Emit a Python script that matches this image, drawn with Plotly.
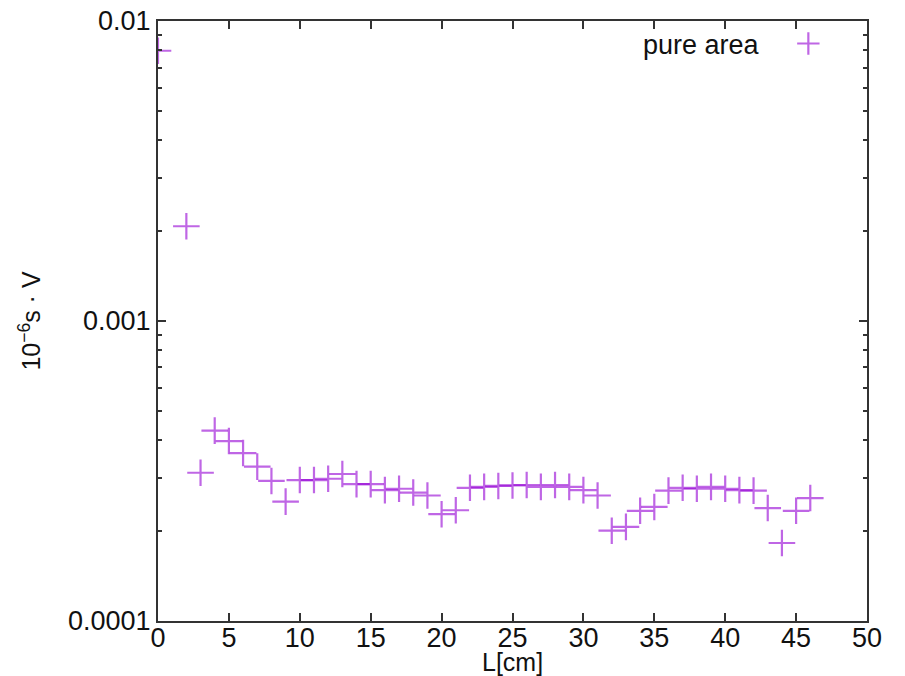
import plotly.graph_objects as go

# L [cm] positions and measured pure area (10^-6 s * V)
length_cm = [0, 2, 3, 4, 5, 6, 7, 8, 9, 10, 11, 12, 13, 14, 15, 16, 17, 18, 19, 20,
             21, 22, 23, 24, 25, 26, 27, 28, 29, 30, 31, 32, 33, 34, 35, 36, 37, 38,
             39, 40, 41, 42, 43, 44, 45, 46]
pure_area = [0.00796, 0.00207, 0.000312, 0.000431, 0.000398, 0.000363, 0.000327,
             0.000293, 0.000250, 0.000295, 0.000295, 0.000298, 0.000309, 0.000286,
             0.000286, 0.000273, 0.000276, 0.000268, 0.000262, 0.000227, 0.000234,
             0.000278, 0.000280, 0.000282, 0.000283, 0.000284, 0.000280, 0.000284,
             0.000280, 0.000273, 0.000262, 0.000200, 0.000206, 0.000233, 0.000240,
             0.000272, 0.000278, 0.000276, 0.000280, 0.000276, 0.000273, 0.000272,
             0.000238, 0.000182, 0.000233, 0.000257]

y_tickvals = [0.0001, 0.001, 0.01]
y_ticktext = ["0.0001", "0.001", "0.01"]
x_tickvals = [0, 5, 10, 15, 20, 25, 30, 35, 40, 45, 50]

series_name = "pure area"
x_label = "L[cm]"
y_label = "10<sup>−6</sup>s · V"
purple = "rgba(148,0,211,0.6)"
axis_color = "#333333"
font_family = "Liberation Sans, Arial, sans-serif"

fig = go.Figure()
fig.add_trace(go.Scatter(
    x=length_cm,
    y=pure_area,
    mode="markers",
    name=" ",
    marker=dict(symbol="cross-thin-open", size=19, color=purple,
                line=dict(color=purple, width=2.2)),
))

# the page body adds an 8px offset, margins are shifted to compensate
fig.update_layout(
    width=905,
    height=676,
    paper_bgcolor="white",
    plot_bgcolor="white",
    margin=dict(l=150, r=46, t=13, b=63),
    font=dict(family=font_family, size=27, color="#111111"),
    showlegend=True,
    legend=dict(x=0.961, xanchor="right", y=0.995, yanchor="top", bgcolor="rgba(0,0,0,0)",
                font=dict(size=20), itemsizing="trace"),
    annotations=[
        dict(text=series_name, xref="paper", yref="paper", x=0.852, y=0.96,
             xanchor="right", yanchor="middle", showarrow=False, font=dict(size=27)),
        # x axis title sits right under the tick labels, as in gnuplot
        dict(text=x_label, xref="paper", yref="paper", x=0.5, y=0, yshift=-41,
             xanchor="center", yanchor="middle", showarrow=False, font=dict(size=25)),
    ],
)

fig.update_xaxes(
    range=[0, 50],
    tickvals=x_tickvals,
    ticks="inside",
    ticklen=8,
    tickwidth=1.5,
    tickcolor=axis_color,
    ticklabelstandoff=-8,
    ticklabeloverflow="allow",
    showline=True,
    linewidth=2,
    linecolor=axis_color,
    mirror="ticks",
    showgrid=False,
    zeroline=False,
    automargin=False,
)

fig.update_yaxes(
    type="log",
    range=[-4, -1.9999],
    tickvals=y_tickvals,
    ticktext=y_ticktext,
    ticks="inside",
    ticklen=8,
    tickwidth=1.5,
    tickcolor=axis_color,
    ticklabeloverflow="allow",
    minor=dict(ticks="inside", ticklen=4, tickcolor=axis_color, dtick="D1", showgrid=False),
    showline=True,
    linewidth=2,
    linecolor=axis_color,
    mirror="ticks",
    showgrid=False,
    zeroline=False,
    automargin=False,
    title=dict(text=y_label, font=dict(size=25), standoff=20),
)

fig.write_html("out.html")
